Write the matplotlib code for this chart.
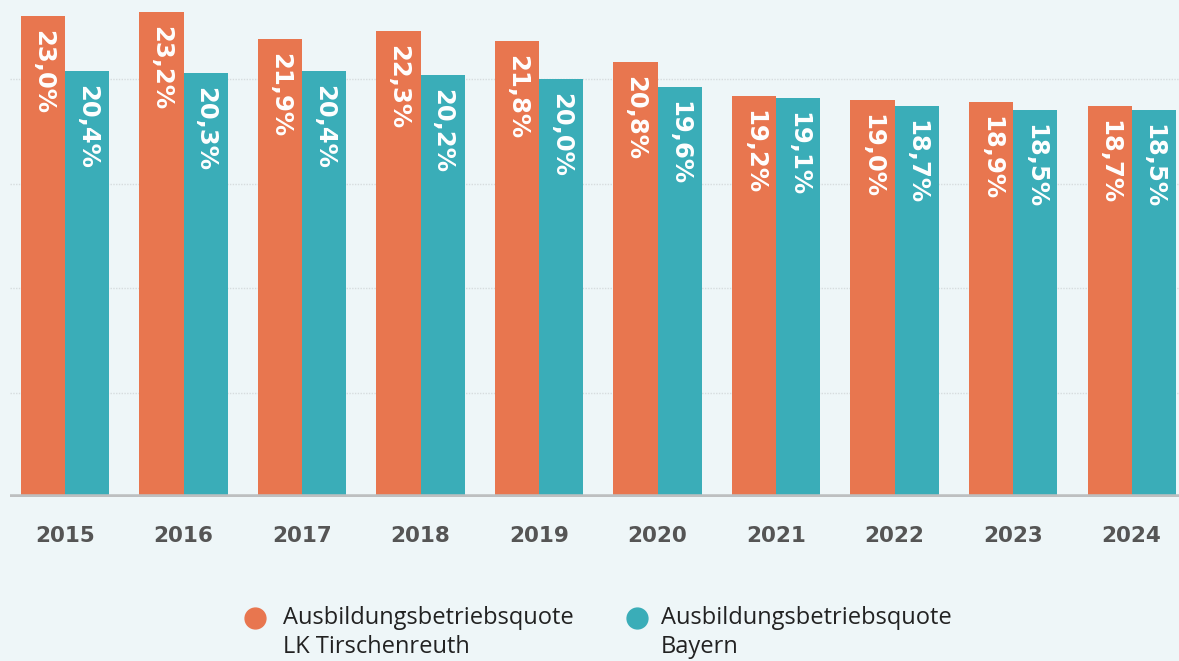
import numpy as np
import matplotlib
matplotlib.use('Agg')
import matplotlib.pyplot as plt

# Ausbildungsbetriebsquote in Prozent
years = ['2015', '2016', '2017', '2018', '2019', '2020', '2021', '2022', '2023', '2024']
lk_tirschenreuth = [23.0, 23.2, 21.9, 22.3, 21.8, 20.8, 19.2, 19.0, 18.9, 18.7]
bayern = [20.4, 20.3, 20.4, 20.2, 20.0, 19.6, 19.1, 18.7, 18.5, 18.5]
series_names = ['Ausbildungsbetriebsquote\nLK Tirschenreuth', 'Ausbildungsbetriebsquote\nBayern']

orange = '#E8764F'
teal = '#3AADB8'
bg = '#EEF6F8'

W, H = 1179, 661
fig = plt.figure(figsize=(W / 100, H / 100), dpi=100, facecolor=bg)
ax = fig.add_axes([10 / W, 1 - 497 / H, 1 - 10 / W, 497 / H])
ax.set_facecolor(bg)

x = np.arange(len(years))
w = 0.372

bars1 = ax.bar(x - w / 2, lk_tirschenreuth, w, color=orange, zorder=2)
bars2 = ax.bar(x + w / 2, bayern, w, color=teal, zorder=2)

def fmt(v):
    return ('%.1f%%' % v).replace('.', ',')

for bars, vals in [(bars1, lk_tirschenreuth), (bars2, bayern)]:
    for b, v in zip(bars, vals):
        ax.annotate(fmt(v), (b.get_x() + b.get_width() / 2, v),
                    xytext=(0, -10), textcoords='offset points',
                    rotation=270, ha='center', va='top', family='DejaVu Sans',
                    color='white', fontsize=17.5, fontweight='semibold', zorder=3)

ax.set_xlim(-0.464, 9.40)
ax.set_ylim(0, 23.78)

for gy in [5, 10, 15, 20]:
    ax.axhline(gy, color='#D6DCDE', lw=1, ls=(0, (1, 1)), zorder=1)
ax.axhline(0, color='#BDBFC0', lw=4, zorder=3)

for s in ax.spines.values():
    s.set_visible(False)
ax.set_yticks([])
ax.set_xticks(x)
ax.set_xticklabels(years, fontsize=15.5, fontweight='bold', color='#555555',
                   family='DejaVu Sans')
ax.tick_params(axis='x', length=0, pad=21)

# legend drawn by hand: dot on the first text line
for (cx, tx), col, name in zip([(255, 283), (637, 661)], [orange, teal], series_names):
    fig.add_artist(plt.Line2D([cx / W], [1 - 618 / H], marker='o', ls='',
                              color=col, markersize=15, transform=fig.transFigure))
    fig.text(tx / W, 1 - 606 / H, name, fontsize=17, color='#222222',
             family='Open Sans', va='top', ha='left', linespacing=1.3)

fig.savefig('out.png', dpi=100, facecolor=bg)
